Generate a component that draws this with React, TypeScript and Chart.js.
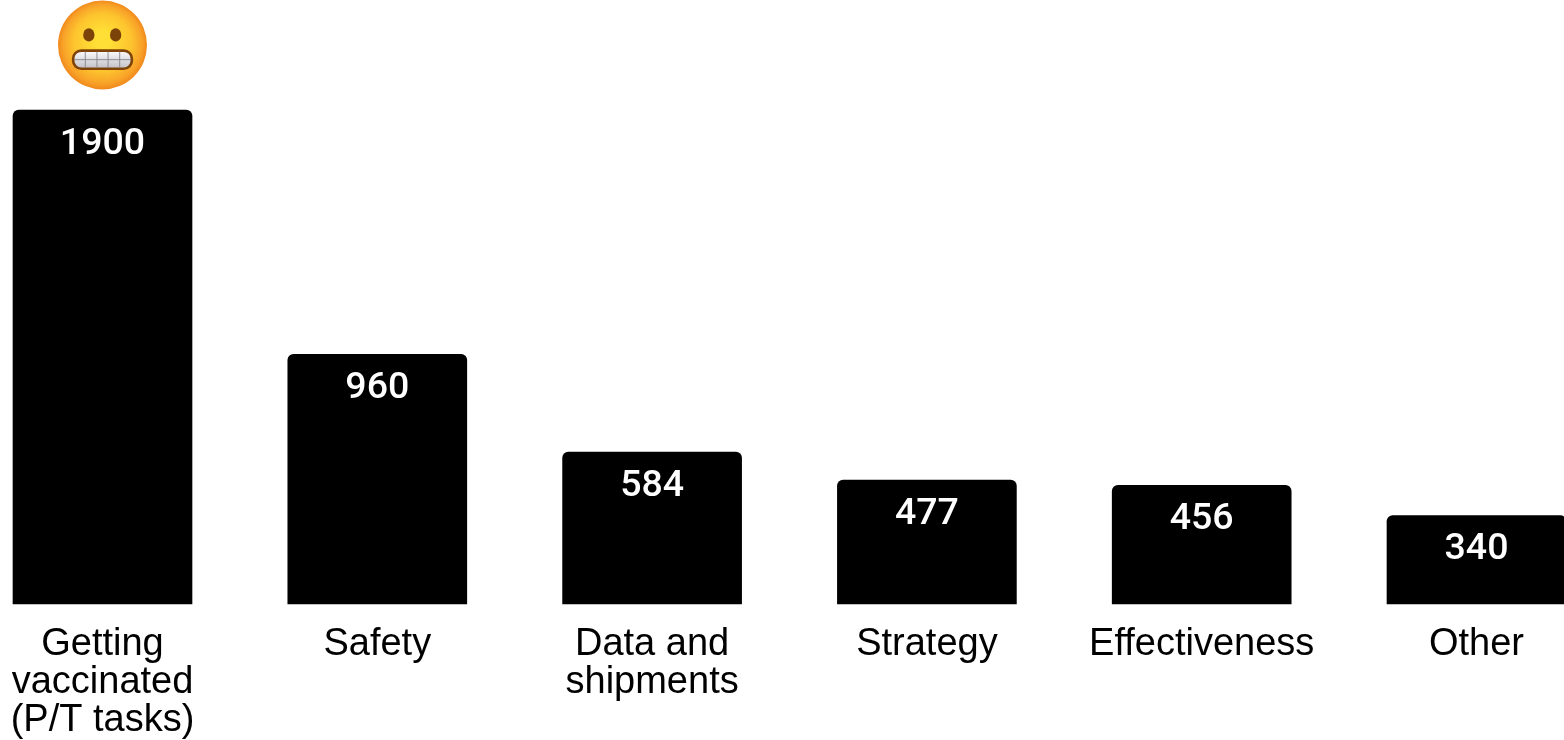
import React, { useEffect, useRef } from "react";
import { Chart, registerables } from "chart.js";

Chart.register(...registerables);

const categories: (string | string[])[] = [
  ["Getting", "vaccinated", "(P/T tasks)"],
  "Safety",
  ["Data and", "shipments"],
  "Strategy",
  "Effectiveness",
  "Other",
];
const counts = [1900, 960, 584, 477, 456, 340];

// The axis keeps half of its widest label free on the left, so the canvas
// starts a little off-page to let the first bar sit close to the edge.
const LEFT_BLEED = 12;

// Grimacing face drawn above the tallest bar.
function drawGrimace(ctx: CanvasRenderingContext2D, cx: number, cy: number, r: number) {
  ctx.save();
  ctx.translate(cx, cy);
  ctx.scale(r / 44, r / 44);

  const skin = ctx.createRadialGradient(0, -6, 8, 0, 0, 45);
  skin.addColorStop(0, "#ffdf35");
  skin.addColorStop(0.55, "#fdc42e");
  skin.addColorStop(0.85, "#f8a128");
  skin.addColorStop(1, "#ee8318");
  ctx.fillStyle = skin;
  ctx.beginPath();
  ctx.arc(0, 0, 44, 0, Math.PI * 2);
  ctx.fill();

  ctx.fillStyle = "#7c4308";
  for (const ex of [-13.5, 13]) {
    ctx.beginPath();
    ctx.ellipse(ex, -10, 5.6, 6.6, 0, 0, Math.PI * 2);
    ctx.fill();
  }

  const teeth = ctx.createLinearGradient(0, 5, 0, 24);
  teeth.addColorStop(0, "#ffffff");
  teeth.addColorStop(1, "#bdbdc4");
  ctx.fillStyle = teeth;
  ctx.strokeStyle = "#7f4309";
  ctx.lineWidth = 2.6;
  ctx.beginPath();
  ctx.roundRect(-29, 5.5, 58, 18, 8);
  ctx.fill();
  ctx.stroke();

  ctx.strokeStyle = "#85858c";
  ctx.lineWidth = 0.9;
  ctx.beginPath();
  ctx.moveTo(-28, 14.5);
  ctx.lineTo(28, 14.5);
  for (const tx of [-17, -5.5, 5.5, 17]) {
    ctx.moveTo(tx, 6.5);
    ctx.lineTo(tx, 22.5);
  }
  ctx.stroke();
  ctx.restore();
}

const barAnnotations = {
  id: "barAnnotations",
  afterDatasetsDraw(chart: Chart) {
    const { ctx } = chart;
    const bars = chart.getDatasetMeta(0).data;
    ctx.save();
    ctx.fillStyle = "#ffffff";
    ctx.font = '500 37.5px Roboto, "Liberation Sans", sans-serif';
    ctx.textAlign = "center";
    ctx.textBaseline = "middle";
    bars.forEach((bar, i) => {
      ctx.fillText(String(counts[i]), bar.x, bar.y + 34.5);
    });
    ctx.restore();
    drawGrimace(ctx, bars[0].x, bars[0].y - 65, 44.5);
  },
};

export default function App() {
  const canvasRef = useRef<HTMLCanvasElement>(null);

  useEffect(() => {
    document.body.style.margin = "0";
    document.body.style.background = "#ffffff";
    const chart = new Chart(canvasRef.current!, {
      type: "bar",
      data: {
        labels: categories,
        datasets: [
          {
            data: counts,
            backgroundColor: "#000000",
            barThickness: 179,
            borderRadius: { topLeft: 6, topRight: 6, bottomLeft: 0, bottomRight: 0 },
            borderSkipped: false,
            clip: false,
          },
        ],
      },
      options: {
        animation: false,
        responsive: false,
        layout: {
          autoPadding: false,
          padding: { left: 102.5 + LEFT_BLEED, right: 87.5, top: 110, bottom: -22 },
        },
        plugins: { legend: { display: false }, tooltip: { enabled: false } },
        scales: {
          x: {
            offset: false,
            border: { display: false },
            grid: { display: false, drawTicks: false },
            ticks: {
              autoSkip: false,
              maxRotation: 0,
              minRotation: 0,
              padding: 22,
              color: "#000000",
              font: { family: '"Liberation Sans", Arial, sans-serif', size: 38, lineHeight: 1 },
            },
          },
          y: { display: false, min: 0, max: 1900 },
        },
      },
      plugins: [barAnnotations],
    });
    return () => chart.destroy();
  }, []);

  return (
    <div style={{ width: 1564, height: 740, overflow: "hidden" }}>
      <canvas
        ref={canvasRef}
        width={1564 + LEFT_BLEED}
        height={740}
        style={{ display: "block", marginLeft: -LEFT_BLEED }}
      />
    </div>
  );
}
